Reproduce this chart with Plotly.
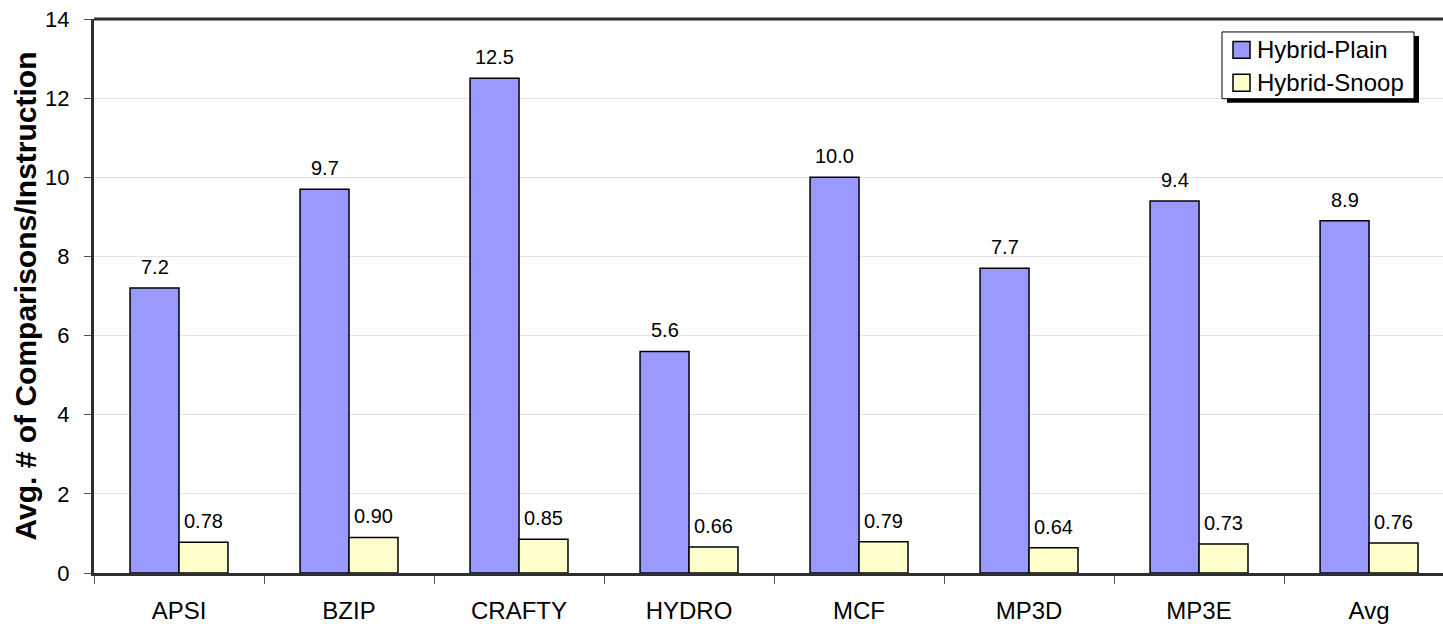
import plotly.graph_objects as go

benchmarks = ["APSI", "BZIP", "CRAFTY", "HYDRO", "MCF", "MP3D", "MP3E", "Avg"]
hybrid_plain = [7.2, 9.7, 12.5, 5.6, 10.0, 7.7, 9.4, 8.9]
hybrid_snoop = [0.78, 0.90, 0.85, 0.66, 0.79, 0.64, 0.73, 0.76]
y_ticks = [0, 2, 4, 6, 8, 10, 12, 14]

series_names = ["Hybrid-Plain", "Hybrid-Snoop"]
series_colors = ["#9999FF", "#FFFFCC"]

FONT = "Liberation Sans, Arial, sans-serif"
AXIS_COLOR = "#2E2E2E"

W, H = 1443, 624
M_L, M_R, M_T, M_B = 94, 0, 19, 49
PLOT_W = W - M_L - M_R
PLOT_H = H - M_T - M_B


def px_x(px):
    """Window pixel column -> paper x."""
    return (px - M_L) / PLOT_W


def px_y(py):
    """Window pixel row -> paper y."""
    return (H - M_B - py) / PLOT_H


fig = go.Figure()
for name, color, values in zip(series_names, series_colors,
                               (hybrid_plain, hybrid_snoop)):
    fig.add_trace(go.Bar(
        name=name, x=benchmarks, y=values, showlegend=False,
        marker=dict(color=color, line=dict(color="#000000", width=1.5)),
    ))

# value labels above each bar (half a bar width left/right of the category centre)
half_bar_px = 24.5
for series, fmt, shift in ((hybrid_plain, "{:.1f}", -half_bar_px),
                           (hybrid_snoop, "{:.2f}", half_bar_px)):
    for name, val in zip(benchmarks, series):
        fig.add_annotation(
            x=name, y=val, text=fmt.format(val), showarrow=False,
            xanchor="center", yanchor="bottom", xshift=shift, yshift=8,
            font=dict(size=20, family=FONT, color="#000000"),
        )

# boxed legend with a drop shadow
box_l, box_r, box_t, box_b = 1222, 1414, 32, 99
shadow_dx, shadow_dy = 5, 4
fig.add_shape(type="rect", xref="paper", yref="paper",
              x0=px_x(box_l + shadow_dx), x1=px_x(box_r + shadow_dx),
              y0=px_y(box_b + shadow_dy), y1=px_y(box_t + shadow_dy),
              fillcolor="#000000", line=dict(width=0), layer="above")
fig.add_shape(type="rect", xref="paper", yref="paper",
              x0=px_x(box_l), x1=px_x(box_r), y0=px_y(box_b), y1=px_y(box_t),
              fillcolor="#FFFFFF", line=dict(color="#000000", width=1),
              layer="above")
row_centres = [50, 83]
swatch = 17
for name, color, cy in zip(series_names, series_colors, row_centres):
    fig.add_shape(type="rect", xref="paper", yref="paper",
                  x0=px_x(1233), x1=px_x(1233 + swatch),
                  y0=px_y(cy + swatch / 2), y1=px_y(cy - swatch / 2),
                  fillcolor=color, line=dict(color="#000000", width=1.5),
                  layer="above")
    fig.add_annotation(x=px_x(1255), y=px_y(cy), xref="paper", yref="paper",
                       text=name, showarrow=False,
                       xanchor="left", yanchor="middle",
                       font=dict(size=24, family=FONT, color="#000000"))

fig.update_layout(
    width=W, height=H,
    margin=dict(l=M_L, r=M_R, t=M_T, b=M_B),
    paper_bgcolor="#FFFFFF", plot_bgcolor="#FFFFFF",
    barmode="group", bargap=0.424, bargroupgap=0,
    font=dict(family=FONT, color="#000000"),
    showlegend=False,
    xaxis=dict(
        range=[-0.5, 7.435],
        tickson="boundaries", ticks="outside", ticklen=8,
        tickcolor="#555555", tickwidth=1,
        showline=True, linecolor=AXIS_COLOR, linewidth=3,
        tickfont=dict(size=24, family=FONT),
        ticklabelstandoff=14,
        showgrid=False,
    ),
    yaxis=dict(
        range=[0, 14], tickvals=y_ticks,
        ticks="outside", ticklen=7, tickcolor="#555555", tickwidth=1,
        showline=True, linecolor=AXIS_COLOR, linewidth=3,
        showgrid=True, gridcolor="#E3E3E3", gridwidth=1,
        tickfont=dict(size=22, family=FONT),
        ticklabelstandoff=10,
        title=dict(text="<b>Avg. # of Comparisons/Instruction</b>",
                   font=dict(size=30, family=FONT), standoff=0),
        zeroline=False,
    ),
)

# top border of the plot area
fig.add_shape(type="line", xref="paper", yref="paper",
              x0=0, x1=1, y0=1, y1=1,
              line=dict(color=AXIS_COLOR, width=3))

fig.write_html("out.html")
